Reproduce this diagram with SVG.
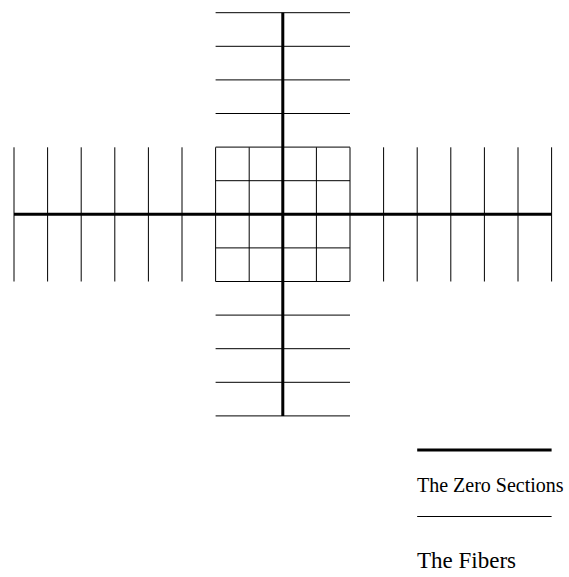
<svg xmlns="http://www.w3.org/2000/svg" width="569" height="577" viewBox="0 0 569 577">
<style>
.thin{stroke:#000;stroke-width:1;fill:none}
.thick{stroke:#000;stroke-width:3;fill:none}
.lbl{font-family:"Liberation Serif",serif;fill:#000}
</style>
<rect width="569" height="577" fill="#fff"/>
<g id="fibers">
<path class="thin" d="M14,147.3V281.5M47.6,147.3V281.5M81.2,147.3V281.5M114.8,147.3V281.5M148.4,147.3V281.5M182,147.3V281.5M215.6,147.3V281.5M249.2,147.3V281.5M316.4,147.3V281.5M350,147.3V281.5M383.6,147.3V281.5M417.2,147.3V281.5M450.8,147.3V281.5M484.4,147.3V281.5M518,147.3V281.5M551.6,147.3V281.5"/>
<path class="thin" d="M215.6,12.7H350M215.6,46.3H350M215.6,79.9H350M215.6,113.5H350M215.6,147.1H350M215.6,180.7H350M215.6,247.9H350M215.6,281.5H350M215.6,315.1H350M215.6,348.7H350M215.6,382.3H350M215.6,415.9H350"/>
</g>
<g id="zero-sections">
<path class="thick" d="M14,214.3H551.6M282.8,12.7V415.9"/>
</g>
<g id="legend-zero">
<path class="thick" d="M417.2,450H551.6"/>
<text class="lbl" x="417" y="491.5" font-size="20">The Zero Sections</text>
</g>
<g id="legend-fibers">
<path class="thin" d="M417.2,516.5H551.6"/>
<text class="lbl" x="417" y="568" font-size="23">The Fibers</text>
</g>
</svg>
